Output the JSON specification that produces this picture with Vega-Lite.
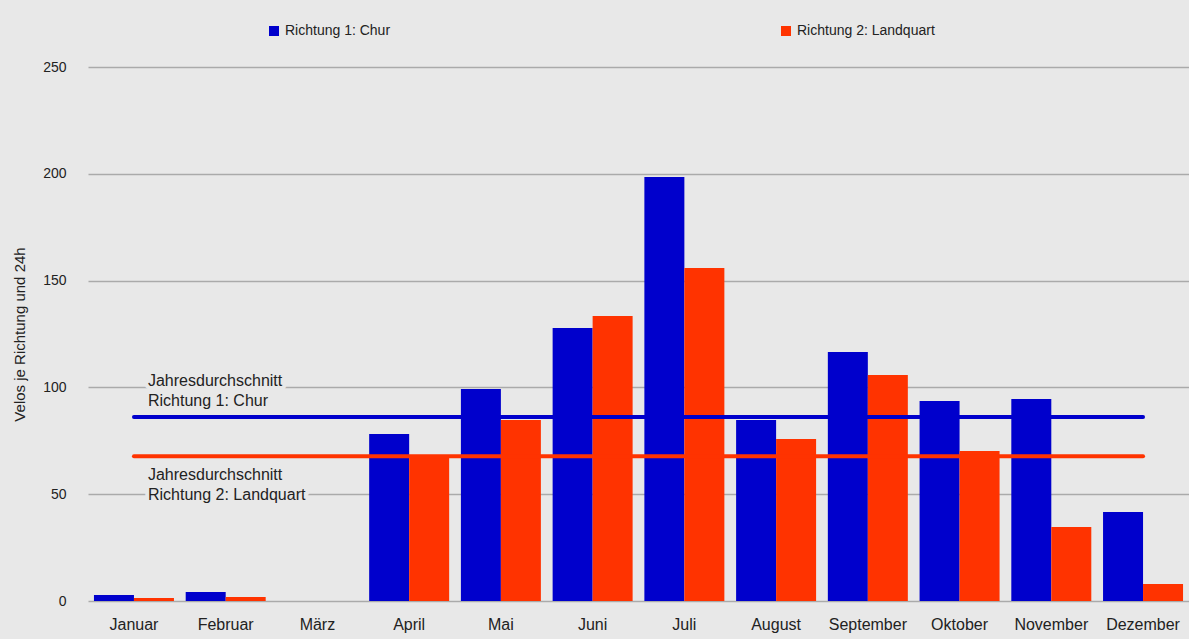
{
  "$schema": "https://vega.github.io/schema/vega-lite/v6.json",
  "autosize": "none",
  "width": 1101,
  "height": 534,
  "padding": {"left": 88, "top": 67, "right": 0, "bottom": 38},
  "background": "#e8e8e8",
  "config": {
    "view": {"stroke": null},
    "font": "Liberation Sans",
    "axis": {"labelFont": "Liberation Sans", "titleFont": "Liberation Sans", "labelColor": "#222222", "titleColor": "#222222"}
  },
  "datasets": {
    "monate": [
      {"monat": "Januar", "richtung": "Richtung 1: Chur", "velos": 2.8},
      {"monat": "Januar", "richtung": "Richtung 2: Landquart", "velos": 1.4},
      {"monat": "Februar", "richtung": "Richtung 1: Chur", "velos": 4.2},
      {"monat": "Februar", "richtung": "Richtung 2: Landquart", "velos": 1.9},
      {"monat": "März", "richtung": "Richtung 1: Chur", "velos": 0},
      {"monat": "März", "richtung": "Richtung 2: Landquart", "velos": 0},
      {"monat": "April", "richtung": "Richtung 1: Chur", "velos": 78.2},
      {"monat": "April", "richtung": "Richtung 2: Landquart", "velos": 67.8},
      {"monat": "Mai", "richtung": "Richtung 1: Chur", "velos": 99.3},
      {"monat": "Mai", "richtung": "Richtung 2: Landquart", "velos": 84.7},
      {"monat": "Juni", "richtung": "Richtung 1: Chur", "velos": 127.8},
      {"monat": "Juni", "richtung": "Richtung 2: Landquart", "velos": 133.4},
      {"monat": "Juli", "richtung": "Richtung 1: Chur", "velos": 198.5},
      {"monat": "Juli", "richtung": "Richtung 2: Landquart", "velos": 155.9},
      {"monat": "August", "richtung": "Richtung 1: Chur", "velos": 84.7},
      {"monat": "August", "richtung": "Richtung 2: Landquart", "velos": 75.8},
      {"monat": "September", "richtung": "Richtung 1: Chur", "velos": 116.6},
      {"monat": "September", "richtung": "Richtung 2: Landquart", "velos": 105.8},
      {"monat": "Oktober", "richtung": "Richtung 1: Chur", "velos": 93.6},
      {"monat": "Oktober", "richtung": "Richtung 2: Landquart", "velos": 70.2},
      {"monat": "November", "richtung": "Richtung 1: Chur", "velos": 94.6},
      {"monat": "November", "richtung": "Richtung 2: Landquart", "velos": 34.6},
      {"monat": "Dezember", "richtung": "Richtung 1: Chur", "velos": 41.7},
      {"monat": "Dezember", "richtung": "Richtung 2: Landquart", "velos": 8.0}
    ],
    "schnitt": [
      {"von": "Januar", "bis": "Dezember", "richtung": "Richtung 1: Chur", "velos": 86.1, "text": "Jahresdurchschnitt\nRichtung 1: Chur"},
      {"von": "Januar", "bis": "Dezember", "richtung": "Richtung 2: Landquart", "velos": 67.8, "text": "Jahresdurchschnitt\nRichtung 2: Landquart"}
    ]
  },
  "layer": [
    {
      "data": {"name": "monate"},
      "mark": {"type": "bar"},
      "encoding": {
        "x": {
          "field": "monat", "type": "nominal", "sort": null,
          "scale": {"domain": ["Januar","Februar","März","April","Mai","Juni","Juli","August","September","Oktober","November","Dezember"], "paddingInner": 0.128, "paddingOuter": 0.065},
          "axis": {"title": null, "domain": false, "ticks": false, "labelAngle": 0, "labelFontSize": 16, "labelPadding": 15}
        },
        "xOffset": {"field": "richtung", "type": "nominal", "scale": {"paddingInner": 0, "paddingOuter": 0}},
        "y": {
          "field": "velos", "type": "quantitative",
          "scale": {"domain": [0, 250], "nice": false},
          "axis": {"title": "Velos je Richtung und 24h", "titleFontSize": 15, "titleFontWeight": "normal", "titlePadding": 15, "values": [0, 50, 100, 150, 200, 250], "domain": false, "ticks": false, "labelFontSize": 14, "labelPadding": 22, "gridColor": "#aaaaaa", "gridWidth": 1.3}
        },
        "color": {
          "field": "richtung", "type": "nominal",
          "scale": {"domain": ["Richtung 1: Chur", "Richtung 2: Landquart"], "range": ["#0000cc", "#ff3300"]},
          "legend": {"title": null, "orient": "none", "direction": "horizontal", "legendX": 179, "legendY": -43, "symbolType": "square", "symbolSize": 100, "symbolStrokeWidth": 0, "labelFontSize": 14, "labelColor": "#222222", "labelFont": "Liberation Sans", "columnPadding": 388, "labelOffset": 4, "labelLimit": 300}
        }
      }
    },
    {
      "data": {"name": "schnitt"},
      "mark": {"type": "rule", "strokeWidth": 4, "strokeCap": "round"},
      "encoding": {
        "x": {"field": "von", "type": "nominal"},
        "x2": {"field": "bis"},
        "y": {"field": "velos", "type": "quantitative"},
        "color": {"field": "richtung", "type": "nominal", "legend": null}
      }
    },
    {
      "data": {"name": "schnitt"},
      "transform": [{"filter": "datum.richtung == 'Richtung 1: Chur'"}],
      "mark": {"type": "text", "align": "left", "baseline": "middle", "dx": 14, "dy": -36, "fontSize": 16, "lineBreak": "\n", "lineHeight": 20, "fill": "#222222", "stroke": "#e8e8e8", "strokeWidth": 8, "strokeJoin": "round"},
      "encoding": {
        "x": {"field": "von", "type": "nominal"},
        "y": {"field": "velos", "type": "quantitative"},
        "text": {"field": "text"}
      }
    },
    {
      "data": {"name": "schnitt"},
      "transform": [{"filter": "datum.richtung == 'Richtung 1: Chur'"}],
      "mark": {"type": "text", "align": "left", "baseline": "middle", "dx": 14, "dy": -36, "fontSize": 16, "lineBreak": "\n", "lineHeight": 20, "fill": "#222222"},
      "encoding": {
        "x": {"field": "von", "type": "nominal"},
        "y": {"field": "velos", "type": "quantitative"},
        "text": {"field": "text"}
      }
    },
    {
      "data": {"name": "schnitt"},
      "transform": [{"filter": "datum.richtung == 'Richtung 2: Landquart'"}],
      "mark": {"type": "text", "align": "left", "baseline": "middle", "dx": 14, "dy": 18.5, "fontSize": 16, "lineBreak": "\n", "lineHeight": 20, "fill": "#222222", "stroke": "#e8e8e8", "strokeWidth": 8, "strokeJoin": "round"},
      "encoding": {
        "x": {"field": "von", "type": "nominal"},
        "y": {"field": "velos", "type": "quantitative"},
        "text": {"field": "text"}
      }
    },
    {
      "data": {"name": "schnitt"},
      "transform": [{"filter": "datum.richtung == 'Richtung 2: Landquart'"}],
      "mark": {"type": "text", "align": "left", "baseline": "middle", "dx": 14, "dy": 18.5, "fontSize": 16, "lineBreak": "\n", "lineHeight": 20, "fill": "#222222"},
      "encoding": {
        "x": {"field": "von", "type": "nominal"},
        "y": {"field": "velos", "type": "quantitative"},
        "text": {"field": "text"}
      }
    }
  ]
}
